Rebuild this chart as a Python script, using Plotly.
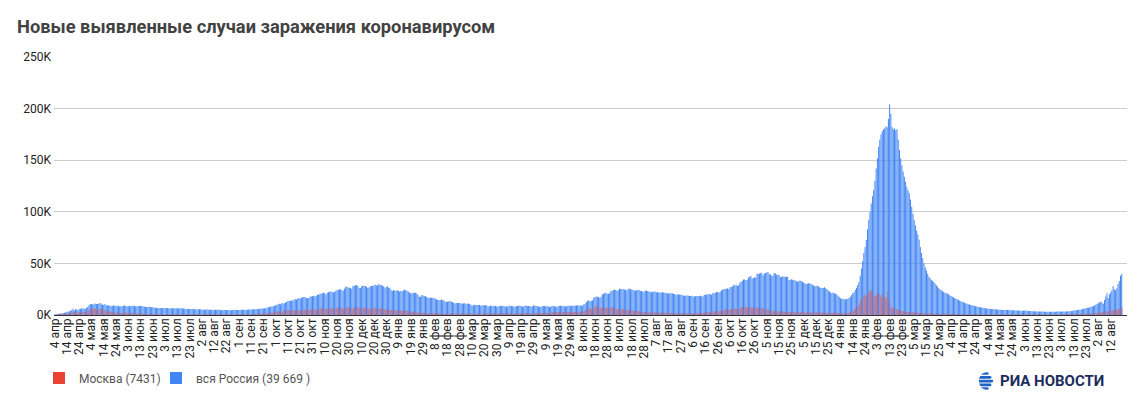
import base64

import pandas as pd
import plotly.graph_objects as go

# ежедневные новые случаи, вся Россия (с 4 апреля 2020)
russia_2020 = [
    582, 658, 954, 1154, 1175, 1459, 1786, 1667, 2186, 2558, 2774, 3388, 3448, 4070, 4785, 6060, 4268, 5642, 5236, 4774, 5849, 5966, 6361, 6198, 6411, 5841, 7099,
    7933, 9623, 10633, 10581, 10102, 10559, 11231, 10699, 10817, 11012, 11656, 10899, 10028, 9974, 10598, 9200, 9709, 8926, 9263, 8764, 8849, 8894, 9434, 8599, 8946, 8915, 8338, 8371, 8572, 8952, 9268,
    9035, 8536, 8536, 8831, 8726, 8855, 8984, 8985, 8595, 8404, 8779, 8987, 8706, 8835, 8246, 8248, 7843, 7790, 7972, 7889, 7728, 7600, 7425, 7176, 7113, 6800, 6852, 6791, 6719, 6693,
    6556, 6760, 6718, 6736, 6632, 6611, 6368, 6562, 6509, 6635, 6611, 6615, 6537, 6248, 6422, 6428, 6406, 6234, 6109, 5940, 5842, 5862, 5811, 5871, 5848, 5765, 5635, 5475, 5395, 5509, 5482,
    5462, 5427, 5159, 5204, 5267, 5241, 5212, 5189, 5118, 5102, 4945, 5057, 5065, 5061, 5076, 4969, 4839, 4718, 4748, 4767, 4870, 4838, 4921, 4696, 4676, 4711, 4829, 4979, 4980, 4897, 4729,
    4729, 4952, 5110, 5185, 5205, 5195, 5099, 5172, 5363, 5363, 5406, 5449, 5488, 5509, 5670, 5762, 5905, 6065, 6148, 6196, 6215, 6431, 6595, 7212, 7523, 7867, 8135, 8232, 8481, 8945,
    9412, 9859, 10499, 10888, 10499, 11615, 11115, 11493, 12126, 12846, 13634, 13592, 13868, 14231, 13754, 14922, 15150, 15099, 15982, 16319, 15971, 16521, 17340, 17347, 17343, 16550, 16202, 16474, 17717, 18283, 18140,
    18665, 18257, 18648, 19768, 19404, 20582, 20498, 20977, 21798, 20977, 19851, 21608, 21983, 22778, 22572, 22410, 21798, 22410, 23610, 24318, 24822, 24581, 25173, 23851, 23675, 25487, 27543, 27100, 26683, 26338,
    26402, 25345, 28145, 28209, 28782, 29039, 28137, 26097, 26190, 27927, 28585, 28137, 28080, 27328, 26509, 26689, 27921, 28214, 28209, 28948, 29350, 28552, 28776, 29935, 29258, 29018, 28284, 27787, 26513, 27039, 27747,
]
russia_2021 = [
    26513, 26301, 24150, 23351, 24246, 23652, 23541, 24217, 23309, 22851, 23315, 22934, 23652, 24763, 24092, 23586, 22857, 21734, 21152, 21127, 21513, 21266, 21513, 20921, 19290, 17741, 17648, 19032, 19238, 18359, 18241,
    17648, 16643, 16714, 16688, 16643, 16627, 16127, 15916, 14928, 14861, 14494, 14494, 15144, 14185, 14207, 12828, 12828, 12953, 13233, 13447, 12742, 12604, 11823, 11198, 11749, 11534, 11562, 11359,
    11571, 10565, 11385, 11385, 11022, 10880, 11198, 10595, 9908, 9079, 9445, 10018, 9697, 9693, 9699, 9632, 9079, 9445, 9523, 9299, 9632, 9215, 8457, 8341, 9128, 9073, 8769, 8711, 8663, 8277, 8328,
    8672, 9013, 8792, 8885, 8711, 8328, 8294, 8351, 9195, 8806, 8702, 8589, 8173, 8045, 8656, 8807, 9195, 8702, 8632, 8053, 8173, 9073, 9270, 8780, 8711, 8633, 8114, 8294, 9284, 9270,
    8419, 8697, 8329, 7770, 8065, 8419, 8790, 8697, 8329, 8697, 8329, 7770, 8065, 8380, 8860, 8554, 8329, 7920, 8217, 8947, 8999, 8825, 9047, 8554, 8217, 8373, 8947, 8997, 8825, 9022, 9037,
    8947, 9139, 9262, 9328, 9163, 9163, 9145, 8947, 10407, 10891, 12505, 13510, 14185, 13397, 13721, 14057, 16715, 17262, 17906, 17611, 17378, 16715, 17594, 20182, 20393, 21665, 21650, 20538, 20616, 21042,
    23543, 23218, 24439, 24353, 24325, 23378, 23962, 25766, 25082, 25142, 25033, 24702, 24471, 23827, 25293, 25704, 25018, 24702, 24301, 23770, 23811, 24072, 24206, 24166, 23270, 23239, 22804, 22420, 23704, 23564, 23270,
    22804, 22589, 22136, 22589, 22828, 22804, 22160, 22144, 21932, 21571, 21828, 22277, 21624, 21624, 21624, 20765, 20958, 21058, 21000, 20992, 20402, 20268, 19630, 19509, 20393, 19630, 19509, 19286, 18985, 18325, 18780,
    18780, 18985, 18341, 18380, 18645, 17856, 17837, 18341, 18291, 18341, 18380, 18645, 17856, 18172, 19594, 19706, 19905, 20174, 20329, 20174, 19706, 20985, 21379, 21559, 22236, 22498, 21650, 22430, 23888, 24522,
    25133, 25110, 25769, 25781, 25133, 26821, 27246, 27550, 29362, 28647, 29409, 28190, 28717, 31299, 32196, 33208, 34303, 34325, 33740, 34073, 36339, 37141, 37678, 35660, 35660, 36582, 36446, 40096, 39849, 40251, 40993,
    40402, 38190, 40217, 40735, 41335, 41335, 39400, 39160, 38058, 38058, 40759, 40123, 39256, 38823, 38420, 36626, 37120, 37374, 37156, 37120, 37156, 36970, 33996, 33860, 34690, 34253, 33582, 33558, 32930, 32136,
    32602, 33389, 32930, 32136, 31339, 30752, 29929, 30209, 30873, 30752, 29929, 29558, 28486, 27967, 28000, 28363, 27967, 26743, 26420, 26128, 26167, 27000, 26000, 25000, 23721, 22744, 21922, 21073, 21922, 21155, 20618,
]
russia_2022 = [
    19800, 18600, 17500, 16300, 15800, 15700, 15300, 15100, 15400, 15800, 16500, 17800, 19500, 21000, 22000, 24500, 26500, 29000, 32000, 38000, 45000, 52000, 60000, 66000, 73000, 83000, 92000, 100000, 108000, 115000, 121000,
    130000, 142000, 152000, 163000, 170000, 175000, 178000, 180000, 181000, 183000, 182000, 190000, 204000, 195000, 182000, 180000, 181000, 179000, 180000, 170000, 160000, 152000, 145000, 139000, 134000, 129000, 124000, 121000,
    118000, 112000, 105000, 98000, 92000, 87000, 82000, 78000, 73000, 66000, 60000, 55000, 50000, 46000, 43000, 40000, 37000, 35500, 34000, 33000, 32000, 30500, 29000, 27500, 26000, 25000, 24000, 23200, 22400, 21600, 21000,
    20800, 20000, 19200, 18400, 17700, 17000, 16400, 15800, 15200, 14600, 14000, 13400, 12900, 12400, 11900, 11400, 10900, 10500, 10100, 9700, 9400, 9100, 8800, 8500, 8200, 7900, 7600, 7400, 7200, 7000,
    6800, 6600, 6400, 6200, 6000, 5900, 5800, 5700, 5600, 5500, 5400, 5300, 5200, 5100, 5000, 4900, 4800, 4900, 5000, 4900, 4800, 4700, 4600, 4500, 4500, 4400, 4400, 4300, 4300, 4200, 4200,
    4200, 4100, 4300, 4100, 4000, 3800, 3900, 3800, 3700, 3700, 3600, 3500, 3400, 3500, 3400, 3300, 3300, 3200, 3300, 3200, 3200, 3100, 3200, 3200, 3100, 3100, 3200, 3200, 3300, 3300,
    3300, 3200, 3300, 3400, 3400, 3300, 3500, 3600, 3600, 3700, 3800, 3900, 4300, 4500, 4600, 4800, 5000, 5100, 5400, 5700, 6000, 6300, 6700, 7000, 7000, 7500, 8000, 8300, 8800, 9400, 10000,
    10800, 11500, 12300, 13000, 12000, 11000, 14500, 18000, 21000, 16500, 20000, 22000, 24000, 28000, 25000, 24000, 26000, 30000, 33000, 38000, 39669,
]

# ежедневные новые случаи, Москва
moscow_2020 = [
    434, 536, 697, 591, 778, 1030, 1124, 1306, 1355, 1489, 1355, 1959, 1370, 1618, 2649, 3570, 2512, 2548, 2316, 2316, 2560, 2612, 2957, 2871, 3075, 2220, 3093,
    4013, 5358, 6292, 5948, 5714, 6703, 5846, 5667, 5551, 5392, 6169, 5392, 4703, 4748, 5392, 3505, 3238, 3545, 3463, 2913, 2699, 2988, 2516, 2140, 2342, 2140, 2054, 1819, 2054, 2238, 2595,
    2297, 1842, 1572, 1842, 2036, 1845, 2195, 1954, 1572, 1195, 1527, 1436, 1549, 1435, 1200, 1072, 1056, 1120, 1003, 1000, 990, 900, 826, 780, 650, 697, 729, 700, 700, 600,
    600, 650, 680, 700, 660, 640, 630, 650, 640, 620, 610, 620, 600, 580, 590, 600, 610, 620, 630, 620, 640, 650, 660, 670, 680, 690, 680, 670, 660, 680, 690,
    690, 700, 690, 680, 680, 690, 700, 690, 680, 670, 680, 690, 700, 690, 680, 670, 660, 650, 660, 670, 680, 690, 690, 680, 670, 680, 690, 700, 710, 700, 690,
    700, 715, 708, 742, 738, 761, 770, 795, 810, 828, 862, 915, 941, 1012, 1049, 1095, 1190, 1321, 1384, 1526, 1560, 1717, 1792, 1990, 2056, 2217, 2304, 2416, 2424, 2705,
    2884, 3327, 3537, 3493, 3229, 3229, 4082, 4501, 4501, 4615, 4484, 4410, 4203, 4216, 4410, 4610, 4610, 4518, 4438, 4389, 4380, 4744, 5224, 5478, 5135, 4908, 4731, 4964, 5474, 5500, 5500,
    5300, 5200, 5300, 5800, 5902, 6253, 6233, 6897, 6418, 5814, 5620, 5835, 6230, 6428, 6438, 6116, 5882, 5985, 6521, 6981, 7168, 7185, 6902, 5952, 5875, 6390, 6994, 7868, 7408, 6979,
    6808, 5751, 7129, 7168, 8203, 7993, 7504, 6509, 6634, 6863, 7041, 7036, 6937, 6425, 5721, 5719, 6264, 6585, 6662, 6780, 6779, 5866, 5874, 5969, 6487, 6340, 6221, 5898, 5289, 5433, 5512,
]
moscow_2021 = [
    5100, 4952, 4765, 4525, 4660, 4831, 4722, 4957, 4600, 4500, 4371, 4058, 4223, 4325, 4139, 4229, 3819, 3280, 3123, 3049, 3050, 2825, 2669, 2401, 2193, 2075, 2021, 2140, 2252, 2179, 2004,
    1875, 1773, 1756, 1758, 1897, 1775, 1659, 1486, 1449, 1607, 1532, 1512, 1536, 1417, 1285, 1233, 1350, 1388, 1477, 1520, 1512, 1418, 1311, 1289, 1486, 1539, 1551, 1452,
    1401, 1280, 1350, 1498, 1532, 1485, 1480, 1444, 1407, 1223, 1224, 1397, 1517, 1522, 1438, 1288, 1245, 1375, 1427, 1510, 1567, 1537, 1298, 1343, 1535, 1670, 1751, 1702, 1553, 1382, 1452,
    1630, 1697, 1796, 1753, 1569, 1471, 1430, 1584, 1616, 1644, 1618, 1422, 1380, 1424, 1641, 1715, 1683, 1706, 1583, 1457, 1580, 1823, 1868, 1801, 1788, 1596, 1462, 1530, 1771, 1838,
    1909, 1973, 2017, 1765, 1752, 1867, 2019, 2084, 2150, 2174, 1929, 2040, 2315, 2588, 2794, 2697, 2552, 2530, 2787, 2897, 3016, 3055, 3162, 2967, 2809, 3013, 3047, 3105, 3206, 2968, 2802,
    2901, 3097, 3194, 3343, 3321, 3039, 2997, 3391, 4033, 4447, 5538, 6195, 6701, 5702, 5782, 5937, 7478, 8956, 9120, 8609, 7555, 6679, 6878, 7681, 7771, 7327, 6977, 6216, 6429, 7598,
    7446, 7003, 7181, 6627, 5880, 5416, 5498, 6176, 6124, 5886, 5433, 4774, 4670, 5015, 5204, 5282, 4856, 4391, 4001, 3878, 3893, 3853, 3665, 3495, 3097, 2983, 2798, 3172, 3083, 2942, 2746,
    2596, 2392, 2346, 2527, 2618, 2648, 2502, 2371, 2246, 2262, 2389, 2530, 2444, 2218, 2074, 1923, 1935, 2058, 2081, 2059, 1859, 1749, 1728, 1794, 1902, 1859, 1780, 1686, 1632, 1589, 1701,
    1776, 1809, 1783, 1649, 1580, 1633, 1698, 1798, 1839, 1856, 1846, 1868, 1888, 2153, 2448, 2588, 2712, 2770, 2789, 2753, 2983, 3392, 3488, 3549, 3733, 3681, 3536, 3915, 4599, 4951,
    5328, 5487, 5486, 5052, 4941, 5539, 5917, 6196, 6398, 6176, 5923, 5734, 6357, 7215, 7655, 8098, 7936, 7575, 6902, 7266, 7633, 7835, 7740, 7138, 6928, 6828, 7002, 7301, 7235, 6888, 6710,
    6411, 5600, 5900, 5400, 5283, 4962, 4700, 4431, 3400, 3600, 3863, 3911, 3752, 3591, 3393, 3151, 3293, 3514, 3491, 3329, 3100, 2981, 2810, 2977, 3049, 3004, 2865, 2737, 2530, 2584,
    2759, 2799, 2880, 2694, 2596, 2493, 2520, 2664, 2715, 2743, 2632, 2515, 2406, 2459, 2644, 2699, 2680, 2512, 2386, 2311, 2383, 2412, 2364, 2204, 2125, 2047, 1981, 2085, 2146, 2148, 2083,
]
moscow_2022 = [
    2074, 2012, 1864, 1744, 1693, 1768, 1736, 1840, 1901, 2078, 2500, 3031, 3717, 4539, 5440, 6507, 7847, 9016, 11352, 13865, 16325, 18485, 20230, 17563, 19200, 21500, 23600, 24500, 23000, 22000, 18500,
    18000, 19500, 21000, 20500, 19000, 17000, 20000, 18500, 17000, 16500, 22500, 15000, 8000, 7000, 6800, 6500, 6200, 5800, 5200, 4600, 4300, 4100, 3900, 3600, 3400, 3300, 3100, 2900,
    2810, 2695, 2580, 2444, 2398, 2251, 2189, 2106, 2043, 1984, 1925, 1880, 1812, 1767, 1703, 1658, 1597, 1551, 1509, 1470, 1432, 1390, 1353, 1318, 1274, 1240, 1205, 1174, 1138, 1103, 1072,
    1045, 1012, 991, 958, 946, 905, 893, 861, 852, 818, 809, 781, 776, 748, 741, 716, 709, 688, 679, 655, 652, 631, 627, 608, 604, 586, 583, 566, 563, 549,
    548, 531, 526, 517, 509, 512, 496, 487, 480, 476, 468, 470, 459, 452, 449, 441, 444, 436, 430, 432, 421, 425, 418, 412, 416, 409, 404, 411, 405, 398, 403,
    402, 415, 388, 371, 396, 410, 392, 380, 366, 385, 398, 377, 389, 402, 415, 398, 421, 437, 429, 444, 461, 452, 478, 496, 487, 512, 530, 521, 548, 566,
    581, 610, 598, 642, 671, 660, 705, 734, 752, 790, 823, 811, 876, 912, 958, 1003, 994, 1071, 1126, 1180, 1215, 1290, 1342, 1318, 1420, 1502, 1585, 1664, 1720, 1701, 1856,
    2010, 2260, 2450, 2690, 2810, 2650, 3120, 3540, 3860, 3580, 4020, 4390, 4650, 4310, 4980, 5320, 5610, 5840, 6180, 6920, 7431,
]

start_date = "2020-04-04"
month_names = ["янв", "фев", "мар", "апр", "мая", "июн", "июл", "авг", "сен", "окт", "ноя", "дек"]
y_ticks = [0, 50000, 100000, 150000, 200000, 250000]
y_labels = ["0K", "50K", "100K", "150K", "200K", "250K"]

russia = russia_2020 + russia_2021 + russia_2022
moscow = moscow_2020 + moscow_2021 + moscow_2022
dates = pd.date_range(start_date, periods=len(russia), freq="D")

tick_dates = dates[::10]
tick_text = [f"{d.day} {month_names[d.month - 1]}" for d in tick_dates]

font = "Roboto, Arial, sans-serif"
day_ms = 86400000

# страница сдвигает график на 8px (поле body), поэтому размеры чуть меньше окна
W, H = 1139, 405
L, R, T, B = 46, 20, 49, 98
plot_w = W - L - R
plot_h = H - T - B

def px(xp):
    return (xp - L) / plot_w

def py(yp):
    return (H - B - yp) / plot_h

# альфа чуть меньше 1, чтобы тонкие столбцы не округлялись до целых пикселей
red = "rgba(234,67,53,0.999)"
blue = "rgba(66,133,244,0.999)"

fig = go.Figure()
fig.add_trace(go.Bar(x=dates, y=russia, name="вся Россия (39 669 )", legend="legend2",
                     marker_color=blue, marker_line_width=0,
                     width=0.8 * day_ms, offset=-0.4 * day_ms))
# Москва поверх правого края столбцов России
fig.add_trace(go.Bar(x=dates, y=moscow, name="Москва (7431)", legend="legend",
                     marker_color=red, marker_line_width=0,
                     width=0.35 * day_ms, offset=0.2 * day_ms))

x_start = dates[0] - pd.Timedelta(hours=12)
x_end = x_start + pd.Timedelta(days=873.8)

legend_font = dict(family=font, size=12, color="#555555")
fig.update_layout(
    width=W, height=H,
    margin=dict(l=L, r=R, t=T, b=B),
    paper_bgcolor="white", plot_bgcolor="white",
    barmode="overlay", bargap=0.2,
    font=dict(family=font, size=12, color="#222222"),
    title=dict(text="<b>Новые выявленные случаи заражения коронавирусом</b>",
               x=9 / W, xanchor="left", y=1 - 19 / H, yanchor="middle",
               font=dict(family=font, size=18.3, color="#424242")),
    showlegend=True,
    legend=dict(orientation="h", x=px(31), xanchor="left", y=py(370), yanchor="middle",
                font=legend_font, bgcolor="rgba(0,0,0,0)"),
    legend2=dict(orientation="h", x=px(148), xanchor="left", y=py(370), yanchor="middle",
                 font=legend_font, bgcolor="rgba(0,0,0,0)"),
    hovermode=False,
)
fig.update_xaxes(
    type="date", range=[x_start, x_end],
    tickvals=tick_dates, ticktext=tick_text, tickangle=-90,
    showgrid=False, showline=False, zeroline=False,
    ticks="", tickfont=dict(size=12, color="#222222"),
)
fig.update_yaxes(
    range=[0, 250000], tickvals=y_ticks, ticktext=y_labels,
    showgrid=True, gridcolor="#cccccc", gridwidth=1,
    zeroline=True, zerolinecolor="#333333", zerolinewidth=1,
    ticks="", tickfont=dict(size=12, color="#222222"), ticklabelstandoff=2,
)

# значок РИА Новости
logo_svg = (
    '<svg xmlns="http://www.w3.org/2000/svg" width="40" height="36" viewBox="0 0 20 18">'
    '<defs><clipPath id="c"><circle cx="11" cy="9" r="9"/></clipPath></defs>'
    '<g clip-path="url(#c)" fill="#1f63c9">'
    '<rect x="0" y="0.2" width="13" height="2.6" rx="1.3"/>'
    '<rect x="0" y="3.9" width="16" height="2.8" rx="1.4"/>'
    '<rect x="0" y="7.7" width="18" height="2.8" rx="1.4"/>'
    '<rect x="0" y="11.5" width="16" height="2.8" rx="1.4"/>'
    '<rect x="0" y="15.2" width="13" height="2.6" rx="1.3"/>'
    '</g></svg>'
)
logo_uri = "data:image/svg+xml;base64," + base64.b64encode(logo_svg.encode()).decode()
fig.add_layout_image(
    source=logo_uri, xref="paper", yref="paper",
    x=px(969), y=py(364), sizex=18 / plot_w, sizey=18 / plot_h,
    xanchor="left", yanchor="top", sizing="stretch", layer="above",
)
fig.add_annotation(
    text="<b>РИА НОВОСТИ</b>", xref="paper", yref="paper",
    x=px(990), y=py(373), xanchor="left", yanchor="middle",
    showarrow=False, font=dict(family=font, size=15, color="#1b2d5c"),
)

fig.write_html("out.html")
